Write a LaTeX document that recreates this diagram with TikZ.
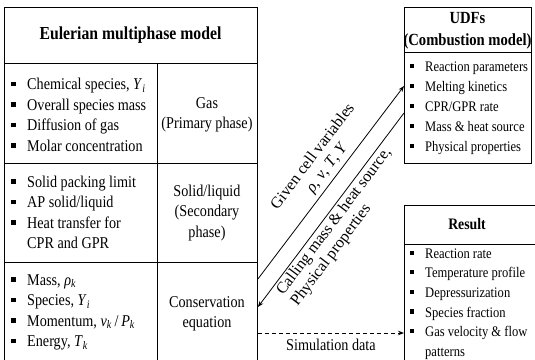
\documentclass[tikz,border=0pt]{standalone}
\usepackage{fontspec}
\setmainfont[FakeStretch=0.86]{Liberation Serif}
\newfontfamily\lblfont{Liberation Serif}
\usetikzlibrary{arrows.meta}
\newcommand\bul{\makebox[16pt][l]{\rule[3.6pt]{4.5pt}{4.5pt}}}
\newcommand\ubul{\makebox[15pt][l]{\rule[3.4pt]{4.2pt}{4.2pt}}}
\newcommand\ind{\hspace*{16pt}}
\newcommand\uind{\hspace*{15pt}}
\newcommand\vi[1]{\textit{#1}}
\newcommand\subx[1]{\textsubscript{\textit{#1}}}
\tikzset{
  box/.style={draw, line width=0.9pt, inner sep=0pt, anchor=north west},
  rule/.style={line width=0.9pt},
  main/.style={font=\fontsize{16.5}{20.5}\selectfont, inner sep=0pt},
  lst/.style={main, align=left, anchor=west},
  ctr/.style={main, align=center},
  ttl/.style={font=\bfseries\fontsize{18.3}{22}\selectfont, inner sep=0pt, align=center},
  hdr/.style={font=\bfseries\fontsize{17}{22}\selectfont, inner sep=0pt, align=center},
  slst/.style={font=\fontsize{14.6}{20}\selectfont, inner sep=0pt, align=left, anchor=west},
  rlst/.style={font=\fontsize{14.6}{19.6}\selectfont, inner sep=0pt, align=left, anchor=west},
  lbl/.style={font=\lblfont\fontsize{16}{18}\selectfont, inner sep=2pt},
  arr/.style={line width=0.8pt, -{Stealth[length=6pt,width=4.5pt]}},
  arrl/.style={line width=0.8pt, {Stealth[length=6pt,width=4.5pt]}-},
}
\begin{document}
\begin{tikzpicture}[x=1pt, y=-1pt]
\useasboundingbox (0,0) rectangle (535,359);
% boxes
\node[box, minimum width=253pt, minimum height=363pt] (euler) at (4,7) {};
\node[box, minimum width=127pt, minimum height=156pt] (udf) at (404,7) {};
\node[box, minimum width=140pt, minimum height=180pt] (result) at (404,205) {};
% dividers
\draw[rule] (euler.west |- 0,63) -- (euler.east |- 0,63);
\draw[rule] (euler.west |- 0,163) -- (euler.east |- 0,163);
\draw[rule] (euler.west |- 0,262) -- (euler.east |- 0,262);
\draw[rule] (157,63) -- (157,370);
\draw[rule] (udf.west |- 0,52) -- (udf.east |- 0,52);
\draw[rule] (result.west |- 0,244) -- (result.east |- 0,244);
% left box text
\node[ttl] (title) at (130.5,35) {Eulerian multiphase model};
\node[lst] (gasl) at (11,115) {\bul Chemical species, \vi{Y}\subx{i}\\
  \bul Overall species mass\\ \bul Diffusion of gas\\ \bul Molar concentration};
\node[ctr] (gasr) at (207,115) {Gas\\(Primary phase)};
\node[lst] (soll) at (11,212.5) {\bul Solid packing limit\\ \bul AP solid/liquid\\
  \bul Heat transfer for\\ \ind CPR and GPR};
\node[ctr] (solr) at (207,213) {Solid/liquid\\(Secondary\\phase)};
\node[lst] (conl) at (11,312.5) {\bul Mass, \vi{ρ}\subx{k}\\ \bul Species, \vi{Y}\subx{i}\\
  \bul Momentum, \vi{v}\subx{k}\,/\,\vi{P}\subx{k}\\ \bul Energy, \vi{T}\subx{k}};
\node[ctr] (conr) at (207,314) {Conservation\\equation};
% UDF box text
\node[hdr] (udfh) at (467.5,30.5) {UDFs\\(Combustion model)};
\node[slst] (udfl) at (410,108) {\ubul Reaction parameters\\ \ubul Melting kinetics\\
  \ubul CPR/GPR rate\\ \ubul Mass \& heat source\\ \ubul Physical properties};
% Result box text
\node[hdr, font=\bfseries\fontsize{16}{20}\selectfont] (resh) at (467,224.5) {Result};
\node[rlst] (resl) at (410,304) {\ubul Reaction rate\\ \ubul Temperature profile\\
  \ubul Depressurization\\ \ubul Species fraction\\ \ubul Gas velocity \& flow\\ \uind patterns};
% connectors
\draw[arr] (euler.east |- 0,279) -- (udf.west |- 0,86)
  node[pos=0.54, sloped, above=2pt, lbl, align=center] (lblA) {Given cell variables\\ \vi{ρ}, \vi{v}, \vi{T}, \vi{Y}};
\draw[arrl] (euler.east |- 0,307) -- (udf.west |- 0,113)
  node[pos=0.09, sloped, anchor=north west, lbl, align=left] (lblB) {Calling mass \& heat source,\\Physical properties};
\draw[arr, dash pattern=on 4pt off 3pt] (euler.east |- 0,333) -- (result.west |- 0,333)
  node[midway, below=6pt, main] (simd) {Simulation data};
\end{tikzpicture}
\end{document}
